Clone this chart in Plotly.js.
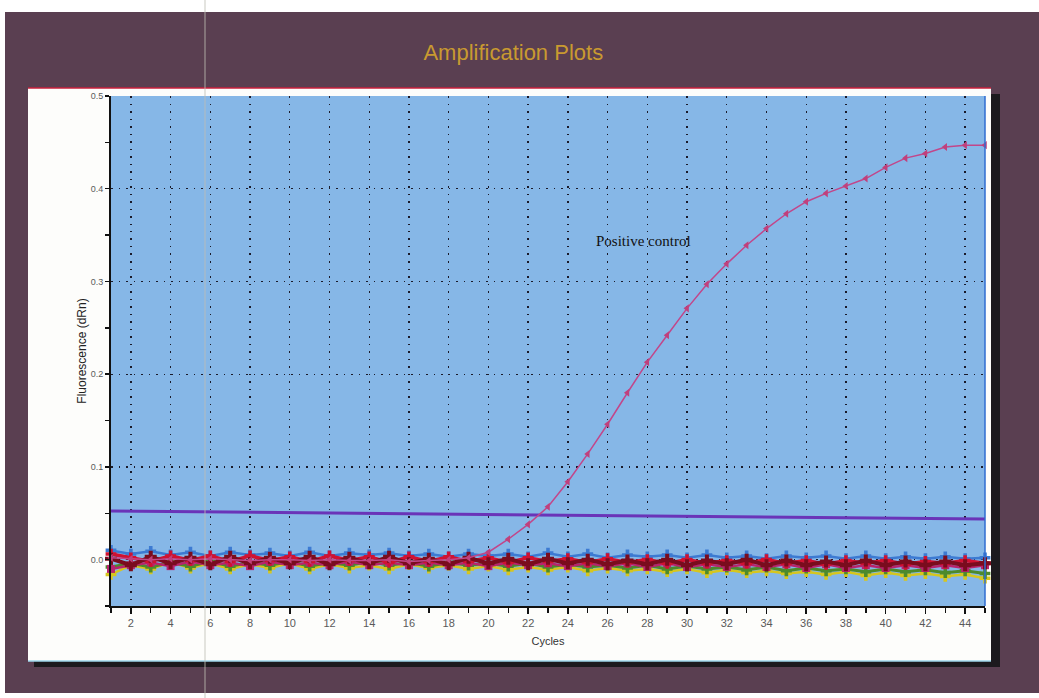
<!DOCTYPE html>
<html>
<head>
<meta charset="utf-8">
<script src="https://cdn.plot.ly/plotly-3.0.1.min.js"></script>
<style>html,body{margin:0;padding:0;background:#fff;}#chart{width:1039px;height:698px;}</style>
</head>
<body>
<div id="chart"></div>
<script>
// ---- data ----
const cycles = [1,2,3,4,5,6,7,8,9,10,11,12,13,14,15,16,17,18,19,20,21,22,23,24,25,26,27,28,29,30,31,32,33,34,35,36,37,38,39,40,41,42,43,44,45];

const positiveControl = [0.002,0.001,0.000,0.001,0.000,0.001,0.000,-0.001,0.000,0.000,-0.001,0.000,-0.001,-0.001,0.000,-0.002,-0.001,0.000,0.002,0.008,0.022,0.038,0.057,0.084,0.114,0.146,0.180,0.213,0.242,0.271,0.297,0.319,0.339,0.357,0.373,0.386,0.395,0.403,0.411,0.423,0.433,0.438,0.445,0.447,0.447];

const sampleBlue = [0.010,0.006,0.009,0.005,0.008,0.004,0.008,0.005,0.007,0.004,0.008,0.004,0.007,0.005,0.007,0.004,0.006,0.003,0.006,0.004,0.006,0.003,0.007,0.003,0.006,0.002,0.005,0.003,0.005,0.002,0.005,0.002,0.004,0.001,0.004,0.002,0.004,0.001,0.004,0.001,0.003,0.001,0.003,0.001,0.002];
const sampleYellow = [-0.016,-0.006,-0.010,-0.003,-0.009,-0.004,-0.010,-0.005,-0.009,-0.004,-0.010,-0.005,-0.009,-0.006,-0.010,-0.005,-0.009,-0.006,-0.010,-0.007,-0.011,-0.008,-0.011,-0.008,-0.012,-0.009,-0.012,-0.010,-0.013,-0.010,-0.014,-0.011,-0.014,-0.012,-0.015,-0.013,-0.016,-0.013,-0.017,-0.014,-0.017,-0.015,-0.018,-0.016,-0.020];
const sampleGreen = [-0.008,-0.004,-0.008,-0.003,-0.007,-0.002,-0.007,-0.003,-0.006,-0.002,-0.007,-0.003,-0.006,-0.002,-0.006,-0.003,-0.007,-0.003,-0.006,-0.004,-0.007,-0.004,-0.008,-0.005,-0.008,-0.006,-0.009,-0.006,-0.010,-0.007,-0.010,-0.008,-0.011,-0.008,-0.012,-0.009,-0.012,-0.010,-0.013,-0.010,-0.013,-0.011,-0.014,-0.012,-0.015];
const sampleMagenta = [-0.010,-0.006,-0.003,-0.007,-0.002,-0.006,-0.003,-0.007,-0.002,-0.006,-0.003,-0.006,-0.002,-0.006,-0.003,-0.006,-0.003,-0.006,-0.003,-0.007,-0.003,-0.006,-0.004,-0.007,-0.004,-0.007,-0.004,-0.008,-0.004,-0.008,-0.005,-0.008,-0.005,-0.008,-0.005,-0.009,-0.005,-0.009,-0.006,-0.009,-0.006,-0.009,-0.006,-0.009,-0.006];
const sampleRed = [0.006,0.002,-0.002,0.004,-0.001,0.004,-0.002,0.004,-0.001,0.003,-0.002,0.004,-0.001,0.003,-0.003,0.003,-0.002,0.003,-0.002,0.002,-0.003,0.002,-0.002,0.001,-0.003,0.001,-0.003,0.000,-0.004,0.000,-0.004,-0.001,-0.004,0.000,-0.004,-0.001,-0.005,-0.001,-0.004,-0.001,-0.005,-0.002,-0.004,-0.001,-0.004];
const sampleDarkRed = [0.001,-0.006,0.003,-0.004,0.002,-0.005,0.003,-0.004,0.002,-0.004,0.003,-0.005,0.002,-0.004,0.003,-0.004,0.001,-0.005,0.002,-0.004,0.001,-0.005,0.001,-0.004,0.000,-0.005,-0.001,-0.005,0.000,-0.006,-0.001,-0.005,0.000,-0.006,-0.001,-0.006,-0.002,-0.006,-0.001,-0.006,-0.002,-0.006,-0.002,-0.006,-0.004];

const thresholdX = [1, 45];
const thresholdY = [0.0524, 0.0438];

const xTicks = [2,4,6,8,10,12,14,16,18,20,22,24,26,28,30,32,34,36,38,40,42,44];
const yTicks = [0.0,0.1,0.2,0.3,0.4,0.5];
const yTickText = ['0.0','0.1','0.2','0.3','0.4','0.5'];

// ---- traces ----
function baseline(y, color, symbol, width, size){
  return {x: cycles, y: y, type:'scatter', mode:'lines+markers',
    line:{color:color, width:width},
    marker:{color:color, symbol:symbol, size:size},
    cliponaxis:false, hoverinfo:'skip'};
}
const traces = [
  {x: thresholdX, y: thresholdY, type:'scatter', mode:'lines', line:{color:'#6a34b8', width:3}, hoverinfo:'skip'},
  baseline(sampleBlue, '#3c7ad2', 'cross', 2.5, 9),
  baseline(sampleYellow, '#d6c61e', 'cross', 2.5, 9),
  baseline(sampleGreen, '#4d8a2c', 'cross', 3, 9),
  baseline(sampleMagenta, '#b8246e', 'square', 2.5, 8),
  baseline(sampleRed, '#d01232', 'cross', 3.5, 9),
  baseline(sampleDarkRed, '#7a0c1e', 'cross', 4, 10),
  {x: cycles, y: positiveControl, type:'scatter', mode:'lines+markers',
    line:{color:'#c2468a', width:1.5},
    marker:{color:'#c0407c', symbol:'triangle-left', size:7},
    cliponaxis:false, hoverinfo:'skip'}
];

// paper-coordinate helpers (plot area: x 111..985, y 96..606 px)
const L=111, R=985, T=96, B=606;
const px = v => (v-L)/(R-L);
const py = v => (B-v)/(B-T);

const font = 'Liberation Sans, Arial, sans-serif';
const layout = {
  width:1039, height:698,
  margin:{l:L, r:1039-R, t:T, b:698-B, pad:0},
  paper_bgcolor:'#ffffff',
  plot_bgcolor:'rgba(0,0,0,0)',
  showlegend:false,
  hovermode:false,
  title:{text:'Amplification Plots', x:0.494, xanchor:'center', y:1-52/698, yanchor:'middle',
    font:{family:font, size:22, color:'#c99a30'}},
  xaxis:{
    range:[1,45], tickvals:xTicks, ticktext:xTicks.map(String),
    showgrid:true, gridcolor:'#1a1a2a', griddash:'1.5px,6px', gridwidth:1.3,
    showline:true, linecolor:'#111', linewidth:2,
    ticks:'outside', ticklen:6, tickwidth:1.5, tickcolor:'#111',
    minor:{dtick:1, tick0:1, ticks:'outside', ticklen:5, tickwidth:1.5, tickcolor:'#111', showgrid:false},
    tickfont:{family:font, size:11, color:'#5a5a5a'},
    zeroline:false,
    title:{text:'Cycles', standoff:9, font:{family:font, size:11, color:'#333'}}
  },
  yaxis:{
    range:[-0.05,0.5], tickvals:yTicks, ticktext:yTickText,
    showgrid:true, gridcolor:'#1a1a2a', griddash:'1.5px,6px', gridwidth:1.3,
    showline:true, linecolor:'#111', linewidth:2,
    ticks:'outside', ticklen:4, tickwidth:1.5, tickcolor:'#111',
    minor:{dtick:0.05, tick0:0, ticks:'outside', ticklen:4, tickwidth:1.5, tickcolor:'#111', showgrid:false},
    tickfont:{family:font, size:9, color:'#5a5a5a'},
    zeroline:false,
    title:{text:'Fluorescence (dRn)', standoff:1, font:{family:font, size:12, color:'#222'}}
  },
  shapes:[
    {type:'rect', xref:'paper', yref:'paper', x0:px(5), x1:px(1039), y0:py(693), y1:py(12), fillcolor:'#5a3f51', line:{width:0}, layer:'below'},
    {type:'rect', xref:'paper', yref:'paper', x0:px(34), x1:px(1000), y0:py(667), y1:py(94), fillcolor:'#1c1a1e', line:{width:0}, layer:'below'},
    {type:'rect', xref:'paper', yref:'paper', x0:px(28), x1:px(991), y0:py(661), y1:py(88), fillcolor:'#fdfdfb', line:{width:0}, layer:'below'},
    {type:'rect', xref:'paper', yref:'paper', x0:0, x1:1, y0:0, y1:1, fillcolor:'#86b7e7', line:{width:0}, layer:'below'},
    {type:'line', xref:'paper', yref:'paper', x0:1, x1:1, y0:0, y1:1, line:{color:'#2f6cd0', width:1.5}, layer:'above'},
    {type:'line', xref:'paper', yref:'paper', x0:px(28), x1:px(991), y0:py(88), y1:py(88), line:{color:'#c8203c', width:1.5}, layer:'below'},
    {type:'line', xref:'paper', yref:'paper', x0:px(28), x1:px(991), y0:py(661), y1:py(661), line:{color:'#9fd8ee', width:1.5}, layer:'below'},
    {type:'line', xref:'paper', yref:'paper', x0:px(205), x1:px(205), y0:py(698), y1:py(0), line:{color:'rgba(190,190,180,0.55)', width:1.5}, layer:'above'}
  ],
  annotations:[
    {text:'Positive control', xref:'x', yref:'y', x:27.8, y:0.344, showarrow:false,
      font:{family:'Liberation Serif, Times New Roman, serif', size:15, color:'#111'}}
  ]
};

Plotly.newPlot('chart', traces, layout, {displayModeBar:false, staticPlot:true});
</script>
</body>
</html>
